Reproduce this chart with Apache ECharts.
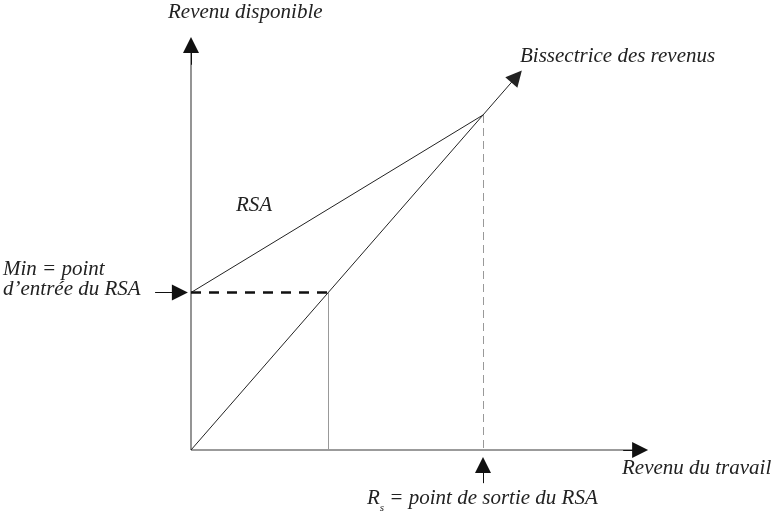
<!DOCTYPE html>
<html><head><meta charset="utf-8">
<script src="https://cdn.jsdelivr.net/npm/echarts@6/dist/echarts.min.js"></script>
<style>html,body{margin:0;padding:0;background:#fff}#c{width:776px;height:516px}</style>
</head><body><div id="c"></div>
<script>
// Stylised values (arbitrary units: bisector is y = x)
const minIncome = 47;        // Min = point d'entrée du RSA
const exitPoint = 100;       // R_s = point de sortie du RSA
const xAxisEnd = [153.8, 0];
const yAxisEnd = [0, 120.9];
const xArrowStart = [148, 0];
const yArrowStart = [0, 115];
const bisectorEnd = [111.5, 111.5];
const rsaLine = [[0, minIncome], [exitPoint, exitPoint]];
const entryArrow = [[-12.3, minIncome], [-3.8, minIncome]];
const exitArrow = [[exitPoint, -9.9], [exitPoint, -4.5]];
const labels = {
  yTitle: 'Revenu disponible',
  xTitle: 'Revenu du travail',
  bisector: 'Bissectrice des revenus',
  rsa: 'RSA',
  min1: 'Min = point',
  min2: 'd\u2019entrée du RSA',
  exit: ' = point de sortie du RSA'
};

const font = '"Liberation Serif", "DejaVu Serif", serif';
const chart = echarts.init(document.getElementById('c'));
const arrowSize = [11, 16];
function seg(name, pts, color, width, type, arrow) {
  return {
    type: 'lines', coordinateSystem: 'cartesian2d', name, silent: true,
    symbol: arrow ? ['none', 'triangle'] : ['none', 'none'], symbolSize: arrowSize,
    lineStyle: { color, width, type, opacity: 1 },
    data: [{ coords: pts }], z: arrow ? 3 : 2
  };
}
const tf = 'italic 21px ' + font;
chart.setOption({
  animation: false,
  grid: { left: 0, right: 0, top: 0, bottom: 0 },
  xAxis: { type: 'value', min: -65.41, max: 200.34, show: false },
  yAxis: { type: 'value', min: -19.70, max: 134.33, show: false },
  series: [
    seg('xAxis', [[0, 0], xAxisEnd], '#7a7a7a', 1.6, 'solid', false),
    seg('yAxis', [[0, 0], yAxisEnd], '#7a7a7a', 1.6, 'solid', false),
    seg('xArrow', [xArrowStart, xAxisEnd], '#111', 1, 'solid', true),
    seg('yArrow', [yArrowStart, yAxisEnd], '#111', 1, 'solid', true),
    seg('bisector', [[0, 0], bisectorEnd], '#222', 1, 'solid', true),
    seg('rsa', rsaLine, '#222', 1, 'solid', false),
    seg('minDash', [[0, minIncome], [minIncome, minIncome]], '#111', 2.6, [10, 8], false),
    seg('minVert', [[minIncome, minIncome], [minIncome, 0]], '#999', 1, 'solid', false),
    seg('exitVert', [[exitPoint, exitPoint], [exitPoint, 0]], '#999', 1, [8, 5], false),
    seg('entryArrow', entryArrow, '#111', 1, 'solid', true),
    seg('exitArrow', exitArrow, '#111', 1, 'solid', true)
  ],
  graphic: [
    { type: 'text', left: 168, top: 2, style: { text: labels.yTitle, font: tf, fill: '#222' } },
    { type: 'text', left: 520, top: 46, style: { text: labels.bisector, font: tf, fill: '#222' } },
    { type: 'text', left: 236, top: 195, style: { text: labels.rsa, font: tf, fill: '#222' } },
    { type: 'text', left: 3, top: 259, style: { text: labels.min1, font: tf, fill: '#222' } },
    { type: 'text', left: 3, top: 279, style: { text: labels.min2, font: tf, fill: '#222' } },
    { type: 'text', left: 622, top: 458, style: { text: labels.xTitle, font: tf, fill: '#222' } },
    { type: 'text', left: 367, top: 488, style: {
        text: '{a|R}{s|s}{a|' + labels.exit + '}',
        rich: {
          a: { font: tf, fill: '#222', verticalAlign: 'bottom', lineHeight: 22 },
          s: { font: 'italic 11px ' + font, fill: '#222', verticalAlign: 'bottom', lineHeight: 22, padding: [0, 0, -5, 0] }
        } } }
  ]
});
</script></body></html>
